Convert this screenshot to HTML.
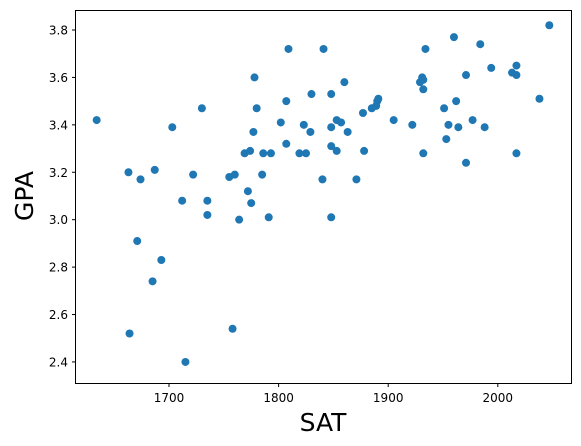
<!DOCTYPE html>
<html><head><meta charset="utf-8">
<style>
html,body{margin:0;padding:0;background:#fff;}
svg{display:block;font-family:"DejaVu Sans","Liberation Sans",sans-serif;}
</style></head>
<body>
<svg id="chart" width="581" height="446" viewBox="0 0 581 446" xmlns="http://www.w3.org/2000/svg">
<rect x="0" y="0" width="581" height="446" fill="#fff"/>
<g id="ticks"></g>
<g id="points"></g>
<rect x="75.5" y="10.5" width="496" height="373" fill="none" stroke="#000" stroke-width="1"/>
<text x="323" y="431" font-size="25" text-anchor="middle">SAT</text>
<text x="0" y="0" font-size="25" text-anchor="middle" transform="translate(33,196) rotate(-90)">GPA</text>
</svg>
<script>
const satValues=[1634,1663,1664,1671,1674,1687,1685,1693,1703,1712,1715,1722,1730,1735,1735,1755,1760,1758,1764,1769,1772,1774,1775,1777,1778,1780,1785,1786,1791,1793,1802,1807,1807,1809,1819,1823,1825,1829,1830,1840,1841,1848,1848,1848,1848,1853,1853,1857,1860,1863,1871,1877,1878,1885,1889,1890,1891,1905,1922,1929,1931,1932,1932,1932,1934,1951,1953,1955,1960,1962,1964,1971,1971,1977,1984,1988,1994,2013,2017,2017,2017,2038,2047];
const gpaValues=[3.42,3.20,2.52,2.91,3.17,3.21,2.74,2.83,3.39,3.08,2.40,3.19,3.47,3.08,3.02,3.18,3.19,2.54,3.00,3.28,3.12,3.29,3.07,3.37,3.60,3.47,3.19,3.28,3.01,3.28,3.41,3.50,3.32,3.72,3.28,3.40,3.28,3.37,3.53,3.17,3.72,3.31,3.53,3.39,3.01,3.42,3.29,3.41,3.58,3.37,3.17,3.45,3.29,3.47,3.48,3.50,3.51,3.42,3.40,3.58,3.60,3.59,3.55,3.28,3.72,3.47,3.34,3.40,3.77,3.50,3.39,3.61,3.24,3.42,3.74,3.39,3.64,3.62,3.65,3.61,3.28,3.51,3.82];
const xTicks=[1700,1800,1900,2000];
const yTicks=[2.4,2.6,2.8,3.0,3.2,3.4,3.6,3.8];

const NS="http://www.w3.org/2000/svg";
function xScale(v){return 169+(v-1700)*1.096;}
function yScale(v){return 30+(3.8-v)*237.1;}
const tg=document.getElementById('ticks');
xTicks.forEach(t=>{
  const x=xScale(t);
  const l=document.createElementNS(NS,'line');
  l.setAttribute('x1',x);l.setAttribute('x2',x);l.setAttribute('y1',383.5);l.setAttribute('y2',387);
  l.setAttribute('stroke','#000');
  
  
  tg.appendChild(l);
  const tx=document.createElementNS(NS,'text');
  tx.setAttribute('x',x);tx.setAttribute('y',402);tx.setAttribute('font-size','12');tx.setAttribute('text-anchor','middle');
  tx.textContent=t;
  
  
  tg.appendChild(tx);
});
yTicks.forEach(t=>{
  const y=yScale(t);
  const l=document.createElementNS(NS,'line');
  l.setAttribute('x1',72);l.setAttribute('x2',75.5);l.setAttribute('y1',y);l.setAttribute('y2',y);
  l.setAttribute('stroke','#000');
  
  
  tg.appendChild(l);
  const tx=document.createElementNS(NS,'text');
  tx.setAttribute('x',68);tx.setAttribute('y',y+4.5);tx.setAttribute('font-size','12');tx.setAttribute('text-anchor','end');
  tx.textContent=t.toFixed(1);
  
  
  tg.appendChild(tx);
});
const pg=document.getElementById('points');
satValues.forEach((s,i)=>{
  const c=document.createElementNS(NS,'circle');
  c.setAttribute('cx',xScale(s));c.setAttribute('cy',yScale(gpaValues[i]));c.setAttribute('r',4);
  c.setAttribute('fill','#1f77b4');
  
  
  pg.appendChild(c);
});
</script>
</body></html>
